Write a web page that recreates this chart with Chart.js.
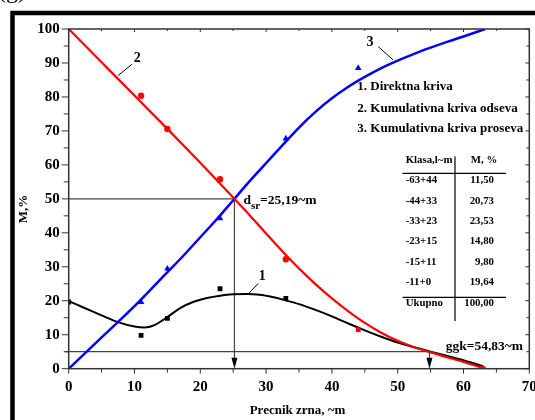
<!DOCTYPE html>
<html><head><meta charset="utf-8">
<script src="https://cdn.jsdelivr.net/npm/chart.js@4/dist/chart.umd.min.js"></script>
<style>html,body{margin:0;padding:0;background:#fff;overflow:hidden;}#wrap{width:535px;height:420px;position:relative;}canvas{display:block;}</style>
</head><body><div id="wrap"><canvas id="c" width="535" height="420" style="width:535px;height:420px"></canvas></div>
<script>
// ---- data ----
const tableClasses = ['-63+44', '-44+33', '-33+23', '-23+15', '-15+11', '-11+0'];
const tableMass = ['11,50', '20,73', '23,53', '14,80', '9,80', '19,64'];
const tableTotal = '100,00';

const directX = [0, 11, 15, 23, 33];
const directY = [19.64, 9.80, 14.80, 23.53, 20.73];
const oversizeX = [11, 15, 23, 33];
const oversizeY = [80.36, 70.56, 55.76, 32.23];
const oversizeSqX = [44, 63];
const oversizeSqY = [11.50, 0];
const undersizeX = [11, 15, 23, 33, 44];
const undersizeY = [19.64, 29.44, 44.24, 67.77, 88.50];

// fitted curves
const fitDirectX = [0, 2.5, 5, 7.5, 10, 11.5, 13, 15, 17, 19, 21, 23, 25, 27, 29, 31, 33, 35, 37.5, 40, 42.5, 45, 47.5, 50, 52.5, 55, 58, 61, 63];
const fitDirectY = [19.9, 17.8, 15.7, 13.7, 12.4, 12.1, 12.8, 15.2, 17.9, 19.7, 20.8, 21.5, 21.9, 22.0, 21.8, 21.1, 20.1, 19.0, 17.3, 15.4, 13.3, 11.3, 9.4, 7.7, 6.3, 5.0, 3.5, 1.9, 0.7];
const fitOverX = [0, 5, 10, 15, 20, 25, 27.5, 30, 32.5, 35, 37.5, 40, 42.5, 45, 47.5, 50, 52.5, 55, 57.5, 60, 63];
const fitOverY = [100, 90.2, 80.4, 70.6, 60.6, 50.4, 45.2, 39.8, 34.5, 29.5, 24.9, 20.7, 16.9, 13.5, 10.6, 8.2, 6.3, 4.8, 3.4, 2.0, 0.2];
const fitUnderX = [0, 5, 10, 15, 17.5, 20, 22.5, 25, 27.5, 30, 32.5, 35, 37.5, 40, 42.5, 45, 47.5, 50, 52.5, 55, 57.5, 60, 63.3];
const fitUnderY = [0, 9.2, 18.4, 28.4, 33.4, 38.7, 44.0, 49.6, 55.2, 60.5, 65.8, 71.0, 75.6, 79.6, 83.0, 85.9, 88.5, 90.7, 92.7, 94.5, 96.2, 97.8, 100];

const dSr = 25.19, dSrLevel = 50;
const ggk = 54.83, ggkLevel = 5;
const xMin = 0, xMax = 70, xStep = 10, xMinor = 5;
const yMin = 0, yMax = 100, yStep = 10, yMinor = 5;

const legendLines = ['1. Direktna kriva', '2. Kumulativna kriva odseva', '3. Kumulativna kriva proseva'];

const SERIF = '"Liberation Serif", "Times New Roman", serif';
const pts = (xs, ys) => xs.map((v, i) => ({x: v, y: ys[i]}));

function line(ctx, x1, y1, x2, y2) { ctx.beginPath(); ctx.moveTo(x1, y1); ctx.lineTo(x2, y2); ctx.stroke(); }
function arrowDown(ctx, x, yTip) {
  ctx.beginPath(); ctx.moveTo(x, yTip); ctx.lineTo(x - 3, yTip - 11); ctx.lineTo(x + 3, yTip - 11); ctx.closePath(); ctx.fill();
}

const decor = {
  id: 'decor',
  beforeDatasetsDraw(chart) {
    const {ctx, scales: {x, y}} = chart;
    ctx.save();
    ctx.strokeStyle = '#444'; ctx.lineWidth = 1.2;
    line(ctx, x.getPixelForValue(xMin), y.getPixelForValue(dSrLevel), x.getPixelForValue(dSr), y.getPixelForValue(dSrLevel));
    line(ctx, x.getPixelForValue(dSr), y.getPixelForValue(dSrLevel), x.getPixelForValue(dSr), y.getPixelForValue(0) - 8);
    line(ctx, x.getPixelForValue(xMin) - 4, y.getPixelForValue(ggkLevel), x.getPixelForValue(ggk), y.getPixelForValue(ggkLevel));
    line(ctx, x.getPixelForValue(ggk), y.getPixelForValue(ggkLevel), x.getPixelForValue(ggk), y.getPixelForValue(0) - 8);
    ctx.restore();
  },
  afterDatasetsDraw(chart) {
    const {ctx, chartArea: a, scales: {x, y}} = chart;
    ctx.save();
    ctx.fillStyle = '#000';
    arrowDown(ctx, x.getPixelForValue(dSr), y.getPixelForValue(0));
    arrowDown(ctx, x.getPixelForValue(ggk), y.getPixelForValue(0));
    ctx.strokeStyle = '#333'; ctx.lineWidth = 1.5;
    ctx.strokeRect(a.left, a.top, a.right - a.left, a.bottom - a.top);
    ctx.lineWidth = 1;
    for (let v = xMin; v <= xMax; v += xMinor) {
      const px = x.getPixelForValue(v), maj = v % xStep === 0;
      line(ctx, px, a.bottom, px, a.bottom + (maj ? 5 : 4));
      line(ctx, px, a.top, px, a.top + (maj ? 3 : 2));
    }
    for (let v = yMin; v <= yMax; v += yMinor) {
      const py = y.getPixelForValue(v), maj = v % yStep === 0;
      line(ctx, a.left - (maj ? 7 : 5), py, a.left, py);
      line(ctx, a.right, py, a.right - (maj ? 4 : 3), py);
    }
    ctx.strokeStyle = '#000'; ctx.lineWidth = 1;
    line(ctx, x.getPixelForValue(7.5), y.getPixelForValue(86.3), x.getPixelForValue(9.6), y.getPixelForValue(89.6));
    line(ctx, x.getPixelForValue(47.05), y.getPixelForValue(94.8), x.getPixelForValue(49.3), y.getPixelForValue(90.9));
    line(ctx, x.getPixelForValue(28.8), y.getPixelForValue(25.1), x.getPixelForValue(27.3), y.getPixelForValue(22.0));
    ctx.fillStyle = '#000';
    ctx.textBaseline = 'middle'; ctx.textAlign = 'center';
    ctx.font = 'bold 14px ' + SERIF;
    ctx.fillText('2', x.getPixelForValue(10.4), y.getPixelForValue(91.4));
    ctx.fillText('3', x.getPixelForValue(45.8), y.getPixelForValue(96.0));
    ctx.fillText('1', x.getPixelForValue(29.4), y.getPixelForValue(27.1));
    ctx.textAlign = 'left';
    ctx.font = 'bold 13px ' + SERIF;
    const ly = [87, 108.3, 128.8];
    legendLines.forEach((t, i) => ctx.fillText(t, 357.3, ly[i]));
    ctx.textBaseline = 'alphabetic';
    const dx = x.getPixelForValue(dSr) + 9, dy = y.getPixelForValue(dSrLevel) + 5;
    ctx.font = 'bold 13.5px ' + SERIF;
    ctx.fillText('d', dx, dy);
    let w = ctx.measureText('d').width;
    ctx.font = 'bold 11px ' + SERIF;
    ctx.fillText('sr', dx + w, dy + 5);
    w += ctx.measureText('sr').width;
    ctx.font = 'bold 13.5px ' + SERIF;
    ctx.fillText('=25,19~m', dx + w, dy);
    ctx.fillText('ggk=54,83~m', 445.7, 349.5);
    ctx.font = 'bold 10.8px ' + SERIF;
    ctx.textBaseline = 'middle';
    ctx.fillText('Klasa,l~m', 405.7, 160);
    ctx.textAlign = 'center';
    ctx.fillText('M, %', 484, 160);
    const rowY = [180.7, 201, 221.7, 241.7, 262.3, 282.7];
    tableClasses.forEach((c, i) => {
      ctx.textAlign = 'left'; ctx.fillText(c, 405.7, rowY[i]);
      ctx.textAlign = 'right'; ctx.fillText(tableMass[i], 494, rowY[i]);
    });
    ctx.textAlign = 'left'; ctx.fillText('Ukupno', 405.7, 303.5);
    ctx.textAlign = 'right'; ctx.fillText(tableTotal, 494, 303.5);
    ctx.strokeStyle = '#000'; ctx.lineWidth = 1.2;
    line(ctx, 402.5, 173.3, 506, 173.3);
    line(ctx, 402.5, 297.3, 506, 297.3);
    line(ctx, 455, 156.5, 455, 321);
    ctx.textAlign = 'center'; ctx.textBaseline = 'middle';
    ctx.font = 'bold 13px ' + SERIF;
    ctx.fillText('Precnik zrna, ~m', (a.left + a.right) / 2 - 1.5, 411);
    ctx.save(); ctx.translate(23.5, 209); ctx.rotate(-Math.PI / 2);
    ctx.fillText('M,%', 0, 0); ctx.restore();
    ctx.strokeStyle = '#000'; ctx.lineWidth = 4.5;
    ctx.beginPath(); ctx.moveTo(12.5, 440); ctx.lineTo(12.5, 13); ctx.lineTo(560, 13); ctx.stroke();
    ctx.textAlign = 'left'; ctx.textBaseline = 'alphabetic';
    ctx.font = '24px ' + SERIF;
    ctx.fillText('(g)', -2, -2);
    ctx.restore();
  }
};

const tickFont = {family: SERIF, size: 15, weight: 'bold'};

new Chart(document.getElementById('c'), {
  type: 'scatter',
  data: {
    datasets: [
      {data: pts(directX, directY), pointStyle: 'rect', pointRadius: 3.4, backgroundColor: '#000', borderColor: '#000', borderWidth: 0, order: 1},
      {data: pts(oversizeX, oversizeY), pointStyle: 'circle', pointRadius: 3.2, backgroundColor: '#ff0000', borderColor: '#ff0000', borderWidth: 0, order: 1},
      {data: pts(oversizeSqX, oversizeSqY), pointStyle: 'rect', pointRadius: 3.4, backgroundColor: '#ff0000', borderColor: '#ff0000', borderWidth: 0, order: 1},
      {data: pts(undersizeX, undersizeY), pointStyle: 'triangle', pointRadius: 3.8, backgroundColor: '#0000ff', borderColor: '#0000ff', borderWidth: 0, order: 1},
      {data: pts(fitOverX, fitOverY), showLine: true, pointRadius: 0, borderColor: '#ff0000', borderWidth: 2.2, cubicInterpolationMode: 'monotone', order: 2},
      {data: pts(fitUnderX, fitUnderY), showLine: true, pointRadius: 0, borderColor: '#0000ff', borderWidth: 2.5, cubicInterpolationMode: 'monotone', order: 3},
      {data: pts(fitDirectX, fitDirectY), showLine: true, pointRadius: 0, borderColor: '#000', borderWidth: 2, cubicInterpolationMode: 'monotone', order: 4}
    ]
  },
  options: {
    responsive: false,
    maintainAspectRatio: false,
    animation: false,
    devicePixelRatio: 1,
    layout: {padding: {top: 29, right: 5.7, left: 0, bottom: 0}},
    plugins: {legend: {display: false}, tooltip: {enabled: false}},
    scales: {
      x: {
        type: 'linear', min: xMin, max: xMax,
        ticks: {stepSize: xStep, font: tickFont, color: '#000', padding: 4, maxRotation: 0},
        grid: {display: true, drawOnChartArea: false, drawTicks: true, tickLength: 5, color: 'rgba(0,0,0,0)'},
        border: {display: false},
        afterFit(s) { s.height = 51.3; s.paddingLeft = 0; s.paddingRight = 0; }
      },
      y: {
        type: 'linear', min: yMin, max: yMax,
        ticks: {stepSize: yStep, font: tickFont, color: '#000', padding: 2},
        grid: {display: true, drawOnChartArea: false, drawTicks: true, tickLength: 7, color: 'rgba(0,0,0,0)'},
        border: {display: false},
        afterFit(s) { s.width = 68.7; s.paddingTop = 0; s.paddingBottom = 0; }
      }
    }
  },
  plugins: [decor]
});
</script>
</body></html>
